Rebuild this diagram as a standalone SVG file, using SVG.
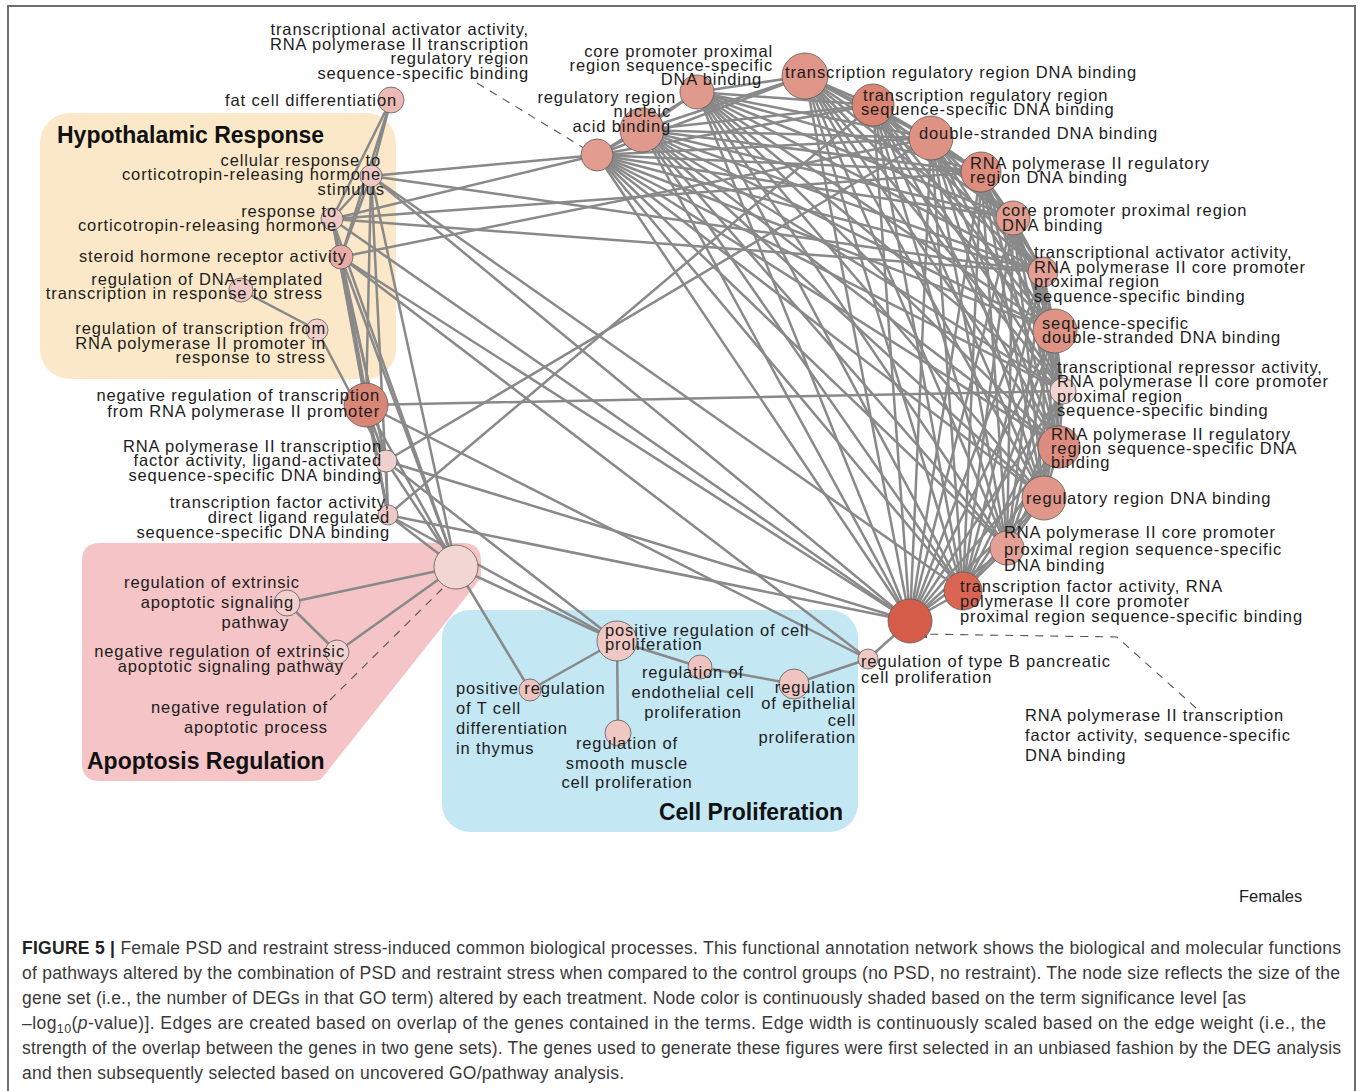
<svg xmlns="http://www.w3.org/2000/svg" width="1358" height="1091" viewBox="0 0 1358 1091">
<style>
.e{stroke:#898989;stroke-width:2.5;fill:none;stroke-linecap:round}
.n{stroke:#5a5a5a;stroke-width:0.8}
.t{font-family:"Liberation Sans",Arial,Helvetica,sans-serif;font-size:16.5px;letter-spacing:0.87px;fill:#1c1c1c}
.te{text-anchor:end}
.tm{text-anchor:middle}
.h{font-family:"Liberation Sans",Arial,Helvetica,sans-serif;font-size:23px;font-weight:bold;fill:#111}
.d{stroke:#555;stroke-width:1.1;stroke-dasharray:8 7;fill:none}
.c{font-family:"Liberation Sans",Arial,Helvetica,sans-serif;font-size:17.5px;fill:#3a3a3a}
</style>
<defs>
<marker id="ah" viewBox="0 0 10 10" refX="9" refY="5" markerWidth="10" markerHeight="10" markerUnits="userSpaceOnUse" orient="auto"><path d="M0 1L10 5L0 9z" fill="#444"/></marker>
</defs>
<rect x="0" y="0" width="1358" height="1091" fill="#fff"/>
<rect x="8" y="6" width="1347" height="1100" fill="none" stroke="#6e6e6e" stroke-width="2"/>

<g id="regions">
<g id="region-hypothalamic"><rect x="40" y="113" width="356" height="266" rx="30" fill="#fbe8c8"/><text class="h" x="57" y="143">Hypothalamic Response</text></g>
<g id="region-apoptosis"><path d="M100 543H463Q481 543 481 561V578L322 778Q319 781 312 781H100Q82 781 82 763V561Q82 543 100 543Z" fill="#f4c4c7"/><text class="h" x="87" y="769">Apoptosis Regulation</text></g>
<g id="region-cellprolif"><rect x="442" y="610" width="416" height="222" rx="28" fill="#c4e7f4"/><text class="h te" x="843" y="820">Cell Proliferation</text></g>
</g>

<g id="connectors">
<path class="e" d="M391 100L371 176"/><path class="e" d="M391 100L332 219"/><path class="e" d="M391 100L341 257"/>
<path class="e" d="M371 176L332 219"/><path class="e" d="M371 176L341 257"/><path class="e" d="M371 176L366 405"/><path class="e" d="M371 176L388 515"/><path class="e" d="M371 176L456 567"/>
<path class="e" d="M332 219L341 257"/><path class="e" d="M332 219L366 405"/><path class="e" d="M332 219L386 461"/><path class="e" d="M332 219L388 515"/><path class="e" d="M332 219L456 567"/>
<path class="e" d="M341 257L366 405"/><path class="e" d="M341 257L386 461"/><path class="e" d="M341 257L388 515"/><path class="e" d="M341 257L456 567"/>
<path class="e" d="M241 290L317 330"/><path class="e" d="M317 330L386 461"/>
<path class="e" d="M366 405L386 461"/><path class="e" d="M366 405L388 515"/><path class="e" d="M366 405L456 567"/>
<path class="e" d="M386 461L388 515"/><path class="e" d="M386 461L456 567"/><path class="e" d="M388 515L456 567"/>
<path class="e" d="M456 567L287 603"/><path class="e" d="M456 567L337 652"/><path class="e" d="M287 603L337 652"/>
<path class="e" d="M456 567L617 641"/><path class="e" d="M456 567L530 690"/>
<path class="e" d="M617 641L530 690"/><path class="e" d="M617 641L618 733"/><path class="e" d="M617 641L700 667"/><path class="e" d="M700 667L794 684"/><path class="e" d="M794 684L868 659"/><path class="e" d="M868 659L910 621"/>
<path class="e" d="M386 461L617 641"/><path class="e" d="M388 515L617 641"/>
<path class="e" d="M371 176L597 155"/><path class="e" d="M332 219L597 155"/><path class="e" d="M371 176L1043 272"/><path class="e" d="M332 219L981 172"/><path class="e" d="M332 219L1043 272"/><path class="e" d="M341 257L931 138"/>
<path class="e" d="M371 176L963 591"/><path class="e" d="M371 176L910 621"/><path class="e" d="M332 219L910 621"/><path class="e" d="M341 257L910 621"/><path class="e" d="M341 257L868 659"/>
<path class="e" d="M366 405L1063 391"/><path class="e" d="M366 405L868 659"/><path class="e" d="M386 461L931 138"/><path class="e" d="M386 461L910 621"/><path class="e" d="M388 515L873 105"/><path class="e" d="M388 515L910 621"/>

<path class="e" d="M910 621L597 155"/><path class="e" d="M910 621L642 130"/><path class="e" d="M910 621L697 92"/><path class="e" d="M910 621L805 76"/><path class="e" d="M910 621L873 105"/><path class="e" d="M910 621L931 138"/><path class="e" d="M910 621L981 172"/><path class="e" d="M910 621L1013 218"/><path class="e" d="M910 621L1043 272"/><path class="e" d="M910 621L1055 331"/><path class="e" d="M910 621L1063 391"/><path class="e" d="M910 621L1059 447"/><path class="e" d="M910 621L1044 498"/><path class="e" d="M910 621L1007 548"/><path class="e" d="M910 621L963 591"/>
<path class="e" d="M597 155L642 130"/><path class="e" d="M597 155L697 92"/><path class="e" d="M597 155L805 76"/><path class="e" d="M597 155L873 105"/><path class="e" d="M597 155L931 138"/><path class="e" d="M597 155L981 172"/><path class="e" d="M597 155L1013 218"/><path class="e" d="M597 155L1043 272"/><path class="e" d="M597 155L1055 331"/><path class="e" d="M597 155L1063 391"/><path class="e" d="M597 155L1059 447"/><path class="e" d="M597 155L1044 498"/><path class="e" d="M597 155L1007 548"/><path class="e" d="M597 155L963 591"/>
<path class="e" d="M642 130L697 92"/><path class="e" d="M642 130L805 76"/><path class="e" d="M642 130L873 105"/><path class="e" d="M642 130L931 138"/><path class="e" d="M642 130L981 172"/><path class="e" d="M642 130L1013 218"/><path class="e" d="M642 130L1043 272"/><path class="e" d="M642 130L1055 331"/><path class="e" d="M642 130L1063 391"/><path class="e" d="M642 130L1059 447"/><path class="e" d="M642 130L1044 498"/><path class="e" d="M642 130L1007 548"/><path class="e" d="M642 130L963 591"/>
<path class="e" d="M697 92L805 76"/><path class="e" d="M697 92L873 105"/><path class="e" d="M697 92L931 138"/><path class="e" d="M697 92L981 172"/><path class="e" d="M697 92L1013 218"/><path class="e" d="M697 92L1043 272"/><path class="e" d="M697 92L1055 331"/><path class="e" d="M697 92L1063 391"/><path class="e" d="M697 92L1059 447"/><path class="e" d="M697 92L1044 498"/><path class="e" d="M697 92L1007 548"/><path class="e" d="M697 92L963 591"/>
<path class="e" d="M805 76L873 105"/><path class="e" d="M805 76L931 138"/><path class="e" d="M805 76L981 172"/><path class="e" d="M805 76L1013 218"/><path class="e" d="M805 76L1043 272"/><path class="e" d="M805 76L1055 331"/><path class="e" d="M805 76L1063 391"/><path class="e" d="M805 76L1059 447"/><path class="e" d="M805 76L1044 498"/><path class="e" d="M805 76L1007 548"/><path class="e" d="M805 76L963 591"/>
<path class="e" d="M873 105L931 138"/><path class="e" d="M873 105L981 172"/><path class="e" d="M873 105L1013 218"/><path class="e" d="M873 105L1043 272"/><path class="e" d="M873 105L1055 331"/><path class="e" d="M873 105L1063 391"/><path class="e" d="M873 105L1059 447"/><path class="e" d="M873 105L1044 498"/><path class="e" d="M873 105L1007 548"/><path class="e" d="M873 105L963 591"/>
<path class="e" d="M931 138L981 172"/><path class="e" d="M931 138L1013 218"/><path class="e" d="M931 138L1043 272"/><path class="e" d="M931 138L1055 331"/><path class="e" d="M931 138L1063 391"/><path class="e" d="M931 138L1059 447"/><path class="e" d="M931 138L1044 498"/><path class="e" d="M931 138L1007 548"/><path class="e" d="M931 138L963 591"/>
<path class="e" d="M981 172L1013 218"/><path class="e" d="M981 172L1043 272"/><path class="e" d="M981 172L1055 331"/><path class="e" d="M981 172L1063 391"/><path class="e" d="M981 172L1059 447"/><path class="e" d="M981 172L1044 498"/><path class="e" d="M981 172L1007 548"/><path class="e" d="M981 172L963 591"/>
<path class="e" d="M1013 218L1043 272"/><path class="e" d="M1013 218L1055 331"/><path class="e" d="M1013 218L1063 391"/><path class="e" d="M1013 218L1059 447"/><path class="e" d="M1013 218L1044 498"/><path class="e" d="M1013 218L1007 548"/><path class="e" d="M1013 218L963 591"/>
<path class="e" d="M1043 272L1055 331"/><path class="e" d="M1043 272L1063 391"/><path class="e" d="M1043 272L1059 447"/><path class="e" d="M1043 272L1044 498"/><path class="e" d="M1043 272L1007 548"/><path class="e" d="M1043 272L963 591"/>
<path class="e" d="M1055 331L1063 391"/><path class="e" d="M1055 331L1059 447"/><path class="e" d="M1055 331L1044 498"/><path class="e" d="M1055 331L1007 548"/><path class="e" d="M1055 331L963 591"/>
<path class="e" d="M1063 391L1059 447"/><path class="e" d="M1063 391L1044 498"/><path class="e" d="M1063 391L1007 548"/><path class="e" d="M1063 391L963 591"/>
<path class="e" d="M1059 447L1044 498"/><path class="e" d="M1059 447L1007 548"/><path class="e" d="M1059 447L963 591"/>
<path class="e" d="M1044 498L1007 548"/><path class="e" d="M1044 498L963 591"/>
<path class="e" d="M1007 548L963 591"/>

<path class="d" d="M477 83L592 153" marker-end="url(#ah)"/>
<path class="d" d="M330 700L452 579" marker-end="url(#ah)"/>
<path class="d" d="M1196 708L1117 637L918 634" marker-end="url(#ah)"/>
</g>

<g id="nodes">
<g id="n-fat-cell"><circle class="n" cx="391" cy="100" r="13" fill="#ebbab6"/><text class="t te" x="397" y="106">fat cell differentiation</text></g>
<g id="n-cell-resp-crh"><circle class="n" cx="371" cy="176" r="11" fill="#eec8c5"/><text class="t te"><tspan x="381" y="166">cellular response to</tspan><tspan x="381" y="180">corticotropin-releasing hormone</tspan><tspan x="385" y="195">stimulus</tspan></text></g>
<g id="n-resp-crh"><circle class="n" cx="332" cy="219" r="11" fill="#eec8c5"/><text class="t te"><tspan x="337" y="217">response to</tspan><tspan x="337" y="231">corticotropin-releasing hormone</tspan></text></g>
<g id="n-steroid"><circle class="n" cx="341" cy="257" r="12" fill="#e8aca7"/><text class="t te" x="347" y="262">steroid hormone receptor activity</text></g>
<g id="n-reg-dna-templated"><circle class="n" cx="241" cy="290" r="12" fill="#eec8c5"/><text class="t te"><tspan x="323" y="285">regulation of DNA-templated</tspan><tspan x="323" y="299">transcription in response to stress</tspan></text></g>
<g id="n-reg-transc-stress"><circle class="n" cx="317" cy="330" r="11" fill="#f0cfcc"/><text class="t te"><tspan x="326" y="334">regulation of transcription from</tspan><tspan x="326" y="349">RNA polymerase II promoter in</tspan><tspan x="326" y="363">response to stress</tspan></text></g>
<g id="n-neg-reg-transc"><circle class="n" cx="366" cy="405" r="22" fill="#da8676"/><text class="t te"><tspan x="380" y="401">negative regulation of transcription</tspan><tspan x="380" y="417">from RNA polymerase II promoter</tspan></text></g>
<g id="n-tf-ligand-activated"><circle class="n" cx="386" cy="461" r="11" fill="#f0d0cd"/><text class="t te"><tspan x="382" y="452">RNA polymerase II transcription</tspan><tspan x="382" y="466">factor activity, ligand-activated</tspan><tspan x="382" y="481">sequence-specific DNA binding</tspan></text></g>
<g id="n-tf-direct-ligand"><circle class="n" cx="388" cy="515" r="10" fill="#eec8c4"/><text class="t te"><tspan x="390" y="508">transcription factor activity,</tspan><tspan x="390" y="523">direct ligand regulated</tspan><tspan x="390" y="538">sequence-specific DNA binding</tspan></text></g>
<g id="n-neg-reg-apoptotic"><circle class="n" cx="456" cy="567" r="22" fill="#f2d6d3"/><text class="t te"><tspan x="328" y="713">negative regulation of</tspan><tspan x="328" y="733">apoptotic process</tspan></text></g>
<g id="n-reg-extrinsic"><circle class="n" cx="287" cy="603" r="13" fill="#f2cfcc"/><text class="t te"><tspan x="300" y="588">regulation of extrinsic</tspan><tspan x="294" y="608">apoptotic signaling</tspan><tspan x="289" y="628">pathway</tspan></text></g>
<g id="n-neg-reg-extrinsic"><circle class="n" cx="337" cy="652" r="12" fill="#f2d2cf"/><text class="t te"><tspan x="345" y="657">negative regulation of extrinsic</tspan><tspan x="344" y="672">apoptotic signaling pathway</tspan></text></g>
<g id="n-pos-reg-cell-prolif"><circle class="n" cx="617" cy="641" r="20" fill="#efc7c3"/><text class="t"><tspan x="605" y="636">positive regulation of cell</tspan><tspan x="605" y="650">proliferation</tspan></text></g>
<g id="n-pos-reg-tcell"><circle class="n" cx="530" cy="690" r="11" fill="#eec2be"/><text class="t"><tspan x="456" y="694">positive regulation</tspan><tspan x="456" y="714">of T cell</tspan><tspan x="456" y="734">differentiation</tspan><tspan x="456" y="754">in thymus</tspan></text></g>
<g id="n-smooth-muscle"><circle class="n" cx="618" cy="733" r="13" fill="#efc7c3"/><text class="t tm"><tspan x="627" y="749">regulation of</tspan><tspan x="627" y="769">smooth muscle</tspan><tspan x="627" y="788">cell proliferation</tspan></text></g>
<g id="n-endothelial"><circle class="n" cx="700" cy="667" r="12" fill="#eec3bf"/><text class="t tm"><tspan x="693" y="678">regulation of</tspan><tspan x="693" y="698">endothelial cell</tspan><tspan x="693" y="718">proliferation</tspan></text></g>
<g id="n-epithelial"><circle class="n" cx="794" cy="684" r="15" fill="#eec5c1"/><text class="t te"><tspan x="856" y="693">regulation</tspan><tspan x="856" y="709">of epithelial</tspan><tspan x="856" y="726">cell</tspan><tspan x="856" y="743">proliferation</tspan></text></g>
<g id="n-type-b"><circle class="n" cx="868" cy="659" r="10" fill="#efc8c4"/><text class="t"><tspan x="861" y="667">regulation of type B pancreatic</tspan><tspan x="861" y="683">cell proliferation</tspan></text></g>
<g id="n-pol2-tf-ssdna"><circle class="n" cx="910" cy="621" r="22" fill="#d65c4a"/><text class="t"><tspan x="1025" y="721">RNA polymerase II transcription</tspan><tspan x="1025" y="741">factor activity, sequence-specific</tspan><tspan x="1025" y="761">DNA binding</tspan></text></g>
<g id="n-transc-act-rr"><circle class="n" cx="597" cy="155" r="16" fill="#e29c90"/><text class="t te"><tspan x="529" y="35">transcriptional activator activity,</tspan><tspan x="529" y="49.5">RNA polymerase II transcription</tspan><tspan x="529" y="64">regulatory region</tspan><tspan x="529" y="78.5">sequence-specific binding</tspan></text></g>
<g id="n-reg-region-na"><circle class="n" cx="642" cy="130" r="22" fill="#e09a8d"/><text class="t te"><tspan x="676" y="103">regulatory region</tspan><tspan x="671" y="117">nucleic</tspan><tspan x="671" y="132">acid binding</tspan></text></g>
<g id="n-core-prom-ss"><circle class="n" cx="697" cy="92" r="17" fill="#e09a8d"/><text class="t te"><tspan x="773" y="57">core promoter proximal</tspan><tspan x="773" y="71">region sequence-specific</tspan><tspan x="762" y="85">DNA binding</tspan></text></g>
<g id="n-trr-dna"><circle class="n" cx="805" cy="76" r="23" fill="#df9588"/><text class="t" x="785" y="78">transcription regulatory region DNA binding</text></g>
<g id="n-trr-ss"><circle class="n" cx="873" cy="105" r="21" fill="#da8474"/><text class="t"><tspan x="863" y="101">transcription regulatory region</tspan><tspan x="861" y="115">sequence-specific DNA binding</tspan></text></g>
<g id="n-ds-dna"><circle class="n" cx="931" cy="138" r="22" fill="#de9284"/><text class="t" x="919" y="139">double-stranded DNA binding</text></g>
<g id="n-pol2-rr-dna"><circle class="n" cx="981" cy="172" r="20" fill="#dd8c7e"/><text class="t"><tspan x="970" y="169">RNA polymerase II regulatory</tspan><tspan x="970" y="183">region DNA binding</tspan></text></g>
<g id="n-core-prom-dna"><circle class="n" cx="1013" cy="218" r="17" fill="#e29c90"/><text class="t"><tspan x="1002" y="216">core promoter proximal region</tspan><tspan x="1002" y="231">DNA binding</tspan></text></g>
<g id="n-transc-act-core"><circle class="n" cx="1043" cy="272" r="15" fill="#e39f93"/><text class="t"><tspan x="1034" y="258">transcriptional activator activity,</tspan><tspan x="1034" y="273">RNA polymerase II core promoter</tspan><tspan x="1034" y="287">proximal region</tspan><tspan x="1034" y="302">sequence-specific binding</tspan></text></g>
<g id="n-ss-ds-dna"><circle class="n" cx="1055" cy="331" r="22" fill="#df9385"/><text class="t"><tspan x="1042" y="329">sequence-specific</tspan><tspan x="1042" y="343">double-stranded DNA binding</tspan></text></g>
<g id="n-transc-rep-core"><circle class="n" cx="1063" cy="391" r="13" fill="#f1d4d1"/><text class="t"><tspan x="1057" y="373">transcriptional repressor activity,</tspan><tspan x="1057" y="387">RNA polymerase II core promoter</tspan><tspan x="1057" y="402">proximal region</tspan><tspan x="1057" y="416">sequence-specific binding</tspan></text></g>
<g id="n-pol2-rr-ss"><circle class="n" cx="1059" cy="447" r="21" fill="#dd8d7f"/><text class="t"><tspan x="1051" y="440">RNA polymerase II regulatory</tspan><tspan x="1051" y="454">region sequence-specific DNA</tspan><tspan x="1051" y="468">binding</tspan></text></g>
<g id="n-reg-region-dna"><circle class="n" cx="1044" cy="498" r="22" fill="#e09789"/><text class="t" x="1026" y="504">regulatory region DNA binding</text></g>
<g id="n-pol2-core-ss"><circle class="n" cx="1007" cy="548" r="17" fill="#e4a096"/><text class="t"><tspan x="1004" y="538">RNA polymerase II core promoter</tspan><tspan x="1004" y="555">proximal region sequence-specific</tspan><tspan x="1004" y="571">DNA binding</tspan></text></g>
<g id="n-tf-pol2-core"><circle class="n" cx="963" cy="591" r="19" fill="#d96552"/><text class="t"><tspan x="960" y="592">transcription factor activity, RNA</tspan><tspan x="960" y="607">polymerase II core promoter</tspan><tspan x="960" y="622">proximal region sequence-specific binding</tspan></text></g>
</g>

<g id="caption">
<text class="t" x="1239" y="902" style="letter-spacing:0">Females</text>
<text class="c" x="22" y="954" textLength="1319" lengthAdjust="spacing"><tspan font-weight="bold" fill="#222">FIGURE 5 |</tspan> Female PSD and restraint stress-induced common biological processes. This functional annotation network shows the biological and molecular functions</text>
<text class="c" x="22" y="979" textLength="1318" lengthAdjust="spacing">of pathways altered by the combination of PSD and restraint stress when compared to the control groups (no PSD, no restraint). The node size reflects the size of the</text>
<text class="c" x="22" y="1004" textLength="1224" lengthAdjust="spacing">gene set (i.e., the number of DEGs in that GO term) altered by each treatment. Node color is continuously shaded based on the term significance level [as</text>
<text class="c" x="22" y="1029" textLength="1304" lengthAdjust="spacing">–log<tspan font-size="12.5" dy="4">10</tspan><tspan dy="-4">(</tspan><tspan font-style="italic">p</tspan>-value)]. Edges are created based on overlap of the genes contained in the terms. Edge width is continuously scaled based on the edge weight (i.e., the</text>
<text class="c" x="22" y="1054" textLength="1319" lengthAdjust="spacing">strength of the overlap between the genes in two gene sets). The genes used to generate these figures were first selected in an unbiased fashion by the DEG analysis</text>
<text class="c" x="22" y="1079" textLength="602" lengthAdjust="spacing">and then subsequently selected based on uncovered GO/pathway analysis.</text>
</g>
</svg>
